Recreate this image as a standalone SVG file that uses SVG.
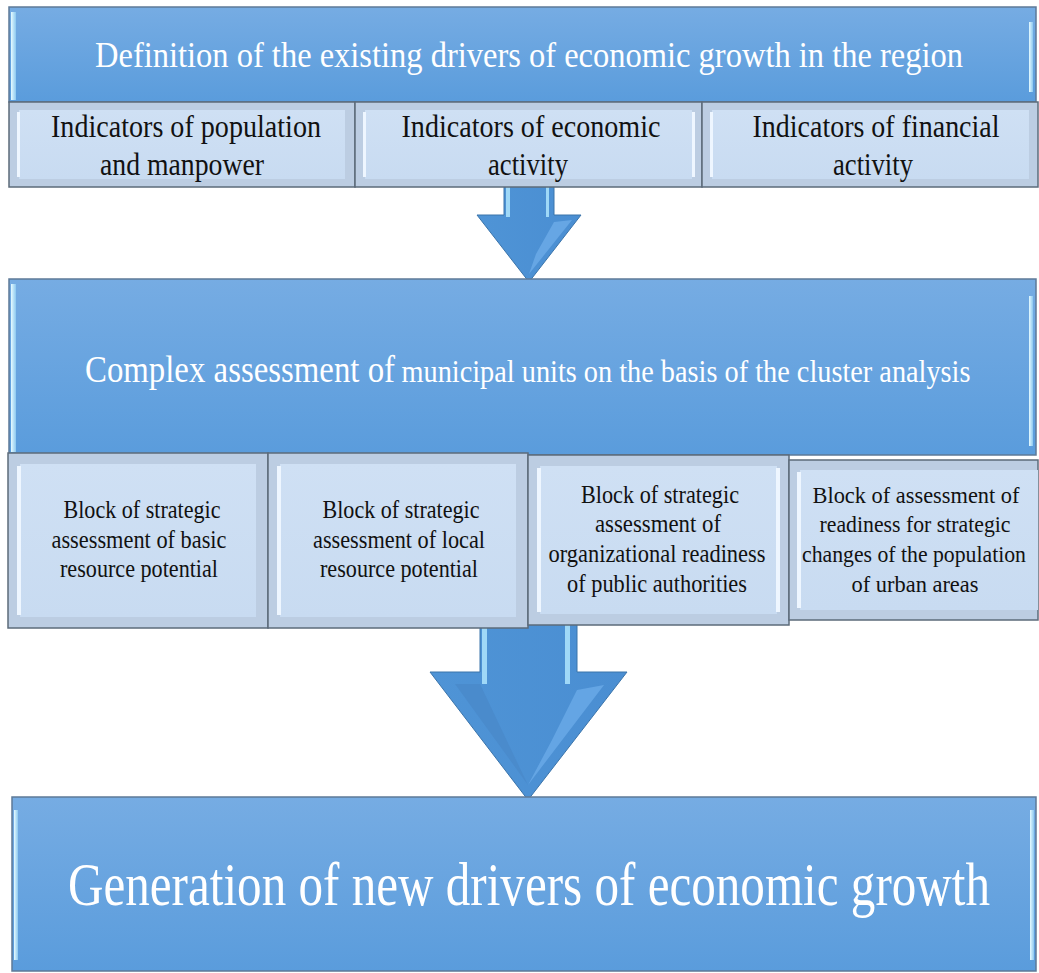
<svg xmlns="http://www.w3.org/2000/svg" width="1039" height="973" viewBox="0 0 1039 973">
<defs>
<linearGradient id="gBlue" x1="0" y1="0" x2="0" y2="1">
<stop offset="0" stop-color="#76ace3"/>
<stop offset="1" stop-color="#5a9cdc"/>
</linearGradient>
<linearGradient id="gLight" x1="0" y1="0" x2="0" y2="1">
<stop offset="0" stop-color="#cfe0f4"/>
<stop offset="1" stop-color="#c8dbf1"/>
</linearGradient>
<linearGradient id="gEdge" x1="0" y1="0" x2="1" y2="0">
<stop offset="0" stop-color="#e6fbff"/>
<stop offset="1" stop-color="#8cc8f0"/>
</linearGradient>
<linearGradient id="gArrow" x1="0" y1="0" x2="1" y2="0">
<stop offset="0" stop-color="#4f94d6"/>
<stop offset="1" stop-color="#4a8ed2"/>
</linearGradient>
</defs>
<style>
.blue{fill:url(#gBlue);stroke:#5d7a98;stroke-width:1.5}
.edge{fill:url(#gEdge)}
.lOut{fill:#bccde2;stroke:#5c6b7a;stroke-width:1.5}
.lIn{fill:url(#gLight)}
.lHi{fill:#eef6ff}
.arrow{fill:url(#gArrow);stroke:#3b74aa;stroke-width:1}
.shine{fill:#a9e0fb;opacity:0.9}
.wt{font-family:"Liberation Serif","Times New Roman",serif;fill:#ffffff;text-anchor:middle}
.bt{font-family:"Liberation Serif","Times New Roman",serif;fill:#111111;text-anchor:middle}
</style>

<g id="connectors">
<g id="arrow1">
<polygon class="arrow" points="504,180 554,180 554,215 581,215 529,282 477,215 504,215"/>
<rect class="shine" x="506" y="187" width="4" height="30"/>
<rect class="shine" x="546" y="187" width="3" height="30"/>
<polygon fill="#66a6e4" points="554,222 572,220 529,274 536,254"/>
</g>
<g id="arrow2">
<polygon class="arrow" points="480,610 577,610 577,672 627,672 528,800 430,672 480,672"/>
<rect class="shine" x="482" y="612" width="5" height="72"/>
<rect class="shine" x="565" y="612" width="5" height="72"/>
<polygon fill="#64a5e4" points="577,690 604,685 528,785 552,740"/>
<polygon fill="#4a8bcc" points="455,684 480,684 528,785"/>
</g>
</g>

<g id="node-top">
<rect class="blue" x="9" y="7" width="1027" height="95"/>
<rect class="edge" x="11" y="12" width="5" height="88"/>
<rect class="edge" x="1029" y="22" width="4" height="70"/>
<text class="wt" x="529" y="67" font-size="35" textLength="868" lengthAdjust="spacingAndGlyphs">Definition of the existing drivers of economic growth in the region</text>
</g>

<g id="node-ind1">
<rect class="lOut" x="9" y="102" width="346" height="85"/>
<rect class="lIn" x="19" y="110" width="326" height="69"/>
<rect class="lHi" x="17" y="112" width="3" height="65"/>
<text class="bt" x="186" y="137" font-size="31" textLength="270" lengthAdjust="spacingAndGlyphs">Indicators  of population</text>
<text class="bt" x="182" y="175" font-size="31" textLength="164" lengthAdjust="spacingAndGlyphs">and manpower</text>
</g>
<g id="node-ind2">
<rect class="lOut" x="355" y="102" width="347" height="85"/>
<rect class="lIn" x="365" y="110" width="327" height="69"/>
<rect class="lHi" x="363" y="112" width="3" height="65"/>
<rect class="lHi" x="692" y="112" width="3" height="65"/>
<text class="bt" x="531" y="137" font-size="31" textLength="259" lengthAdjust="spacingAndGlyphs">Indicators  of economic</text>
<text class="bt" x="528" y="175" font-size="31" textLength="80" lengthAdjust="spacingAndGlyphs">activity</text>
</g>
<g id="node-ind3">
<rect class="lOut" x="702" y="102" width="336" height="85"/>
<rect class="lIn" x="712" y="110" width="317" height="69"/>
<rect class="lHi" x="710" y="112" width="3" height="65"/>
<text class="bt" x="876" y="137" font-size="31" textLength="247" lengthAdjust="spacingAndGlyphs">Indicators  of financial</text>
<text class="bt" x="873" y="175" font-size="31" textLength="80" lengthAdjust="spacingAndGlyphs">activity</text>
</g>

<g id="node-complex">
<rect class="blue" x="9" y="279" width="1027" height="176"/>
<rect class="edge" x="11" y="284" width="5" height="168"/>
<rect class="edge" x="1029" y="296" width="4" height="150"/>
<text class="wt" x="240" y="382" font-size="38" textLength="310" lengthAdjust="spacingAndGlyphs">Complex  assessment  of</text>
<text class="wt" x="686" y="382" font-size="31" textLength="569" lengthAdjust="spacingAndGlyphs">municipal  units  on the basis  of the cluster analysis</text>
</g>

<g id="node-b1">
<rect class="lOut" x="8" y="453" width="260" height="175"/>
<rect class="lIn" x="20" y="464" width="236" height="153"/>
<rect class="lHi" x="17" y="466" width="4" height="149"/>
<text class="bt" x="142" y="518" font-size="26" textLength="157" lengthAdjust="spacingAndGlyphs">Block of strategic</text>
<text class="bt" x="139" y="548" font-size="26" textLength="175" lengthAdjust="spacingAndGlyphs">assessment of basic</text>
<text class="bt" x="139" y="577" font-size="26" textLength="158" lengthAdjust="spacingAndGlyphs">resource potential</text>
</g>
<g id="node-b2">
<rect class="lOut" x="268" y="453" width="260" height="175"/>
<rect class="lIn" x="280" y="464" width="236" height="153"/>
<rect class="lHi" x="277" y="466" width="4" height="149"/>
<text class="bt" x="401" y="518" font-size="26" textLength="157" lengthAdjust="spacingAndGlyphs">Block of strategic</text>
<text class="bt" x="399" y="548" font-size="26" textLength="172" lengthAdjust="spacingAndGlyphs">assessment of local</text>
<text class="bt" x="399" y="577" font-size="26" textLength="158" lengthAdjust="spacingAndGlyphs">resource potential</text>
</g>
<g id="node-b3">
<rect class="lOut" x="528" y="455" width="261" height="170"/>
<rect class="lIn" x="540" y="466" width="237" height="148"/>
<rect class="lHi" x="537" y="468" width="4" height="144"/>
<rect class="lHi" x="776" y="468" width="4" height="144"/>
<text class="bt" x="660" y="503" font-size="26" textLength="158" lengthAdjust="spacingAndGlyphs">Block of strategic</text>
<text class="bt" x="658" y="532" font-size="26" textLength="126" lengthAdjust="spacingAndGlyphs">assessment of</text>
<text class="bt" x="657" y="562" font-size="26" textLength="217" lengthAdjust="spacingAndGlyphs">organizational readiness</text>
<text class="bt" x="657" y="592" font-size="26" textLength="180" lengthAdjust="spacingAndGlyphs">of public authorities</text>
</g>
<g id="node-b4">
<rect class="lOut" x="789" y="460" width="249" height="160"/>
<rect class="lIn" x="800" y="470" width="238" height="140"/>
<rect class="lHi" x="797" y="472" width="4" height="136"/>
<text class="bt" x="916" y="503" font-size="23" textLength="207" lengthAdjust="spacingAndGlyphs">Block of assessment of</text>
<text class="bt" x="915" y="532" font-size="23" textLength="191" lengthAdjust="spacingAndGlyphs">readiness for strategic</text>
<text class="bt" x="914" y="562" font-size="23" textLength="224" lengthAdjust="spacingAndGlyphs">changes of the population</text>
<text class="bt" x="915" y="592" font-size="23" textLength="127" lengthAdjust="spacingAndGlyphs">of urban areas</text>
</g>

<g id="node-generation">
<rect class="blue" x="12" y="797" width="1024" height="174"/>
<rect class="edge" x="14" y="810" width="4" height="150"/>
<rect class="edge" x="1030" y="810" width="4" height="150"/>
<text class="wt" x="529" y="905" font-size="48" textLength="922" lengthAdjust="spacingAndGlyphs" transform="translate(0,905) scale(1,1.28) translate(0,-905)">Generation of new drivers of economic growth</text>
</g>
</svg>
